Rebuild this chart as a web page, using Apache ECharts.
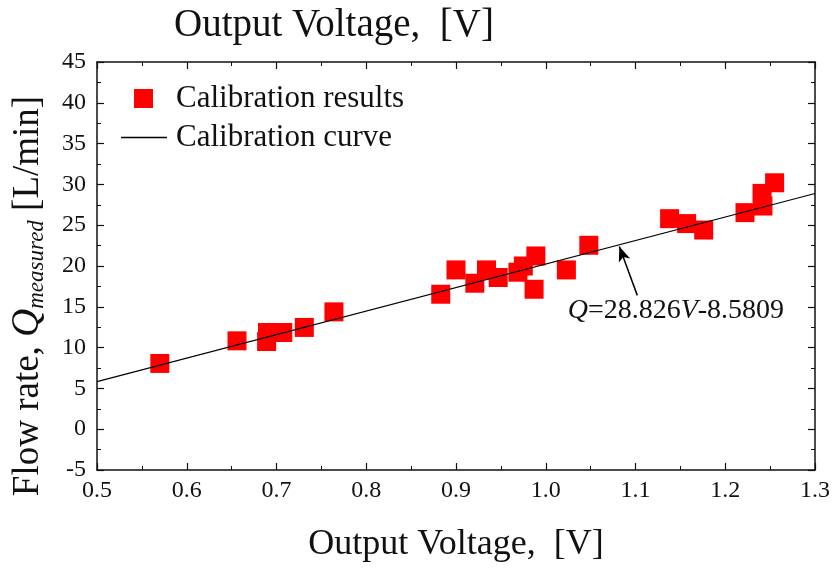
<!DOCTYPE html>
<html>
<head>
<meta charset="utf-8">
<title>Flow rate calibration</title>
<script src="https://cdn.jsdelivr.net/npm/echarts@6/dist/echarts.min.js"></script>
<style>
  html, body { margin: 0; padding: 0; background: #fff; }
  #chart { width: 835px; height: 568px; }
</style>
</head>
<body>
<div id="chart"></div>
<script>
// measured points (output voltage [V], flow rate [L/min])
const voltage = [0.570, 0.656, 0.689, 0.690, 0.707, 0.731, 0.764, 0.883, 0.900, 0.921,
  0.934, 0.947, 0.969, 0.975, 0.989, 0.987, 1.023, 1.048, 1.138, 1.157,
  1.176, 1.222, 1.242, 1.241, 1.255];
const flowRate = [8.06, 10.83, 10.75, 11.85, 11.85, 12.47, 14.38, 16.54, 19.52, 17.89,
  19.52, 18.59, 19.24, 20.0, 21.23, 17.15, 19.52, 22.54, 25.8, 25.2,
  24.41, 26.54, 27.35, 28.9, 30.2];

// fitted line end points, Q = 28.826V - 8.5809
const curveV = [0.5, 1.3];
const curveQ = [5.83, 28.89];

// arrow from the equation label to the line
const arrowFrom = [1.102, 16.4];
const arrowTo = [1.082, 22.4];
const labelAt = [1.145, 14.5];

const xTicks = { min: 0.5, max: 1.3, interval: 0.1 };
const yTicks = { min: -5, max: 45, interval: 5 };

const FONT = "'Liberation Serif', 'DejaVu Serif', serif";
const INK = "#111";

const chart = echarts.init(document.getElementById("chart"));

function frameAxis(extra) {
  return Object.assign({
    axisLine: { show: true, onZero: false, lineStyle: { color: INK, width: 1.5 } },
    axisTick: { show: true, inside: true, length: 7, lineStyle: { color: INK, width: 1.2 } },
    minorTick: { show: true, splitNumber: 2, length: 4, lineStyle: { color: INK, width: 1 } },
    splitLine: { show: false },
    axisLabel: { show: false }
  }, extra);
}

const legendText = { fontFamily: FONT, fontSize: 31, color: INK };

chart.setOption({
  backgroundColor: "#fff",
  animation: false,
  title: {
    text: "Output Voltage,  [V]",
    left: 169,
    top: 1,
    textStyle: { fontFamily: FONT, fontSize: 39, fontWeight: "normal", color: INK }
  },
  grid: { left: 97, right: 20, top: 62, bottom: 97, containLabel: false },
  legend: [
    {
      left: 134,
      top: 83,
      padding: 0,
      itemWidth: 19,
      itemHeight: 19,
      textStyle: Object.assign({ padding: [0, 0, 0, 18] }, legendText),
      data: [{ name: "Calibration results", icon: "rect" }]
    },
    {
      left: 121,
      top: 122,
      padding: 0,
      itemWidth: 46,
      itemHeight: 1.5,
      textStyle: Object.assign({ padding: [0, 0, 0, 4] }, legendText),
      data: [{ name: "Calibration curve", icon: "rect" }]
    }
  ],
  xAxis: [
    frameAxis({
      type: "value",
      position: "bottom",
      min: xTicks.min,
      max: xTicks.max,
      interval: xTicks.interval,
      axisLabel: {
        show: true,
        margin: 9,
        fontFamily: FONT,
        fontSize: 24,
        color: INK,
        formatter: (v) => v.toFixed(1)
      },
      name: "Output Voltage,  [V]",
      nameLocation: "middle",
      nameGap: 57,
      nameTextStyle: { fontFamily: FONT, fontSize: 36, color: INK }
    }),
    frameAxis({
      type: "value",
      position: "top",
      min: xTicks.min,
      max: xTicks.max,
      interval: xTicks.interval
    })
  ],
  yAxis: [
    frameAxis({
      type: "value",
      position: "left",
      min: yTicks.min,
      max: yTicks.max,
      interval: yTicks.interval,
      axisLabel: { show: true, margin: 11, fontFamily: FONT, fontSize: 24, color: INK },
      name: "{n|Flow rate, }{q|Q}{s|measured}{n| [L/min]}",
      nameLocation: "middle",
      nameRotate: 90,
      nameGap: 49,
      nameTextStyle: {
        fontFamily: FONT,
        color: INK,
        padding: [0, 60, 0, 0],
        rich: {
          n: { fontFamily: FONT, fontSize: 37, color: INK },
          q: { fontFamily: FONT, fontSize: 39, fontStyle: "italic", color: INK },
          s: { fontFamily: FONT, fontSize: 23, fontStyle: "italic", color: INK, padding: [17, 0, 0, 0] }
        }
      }
    }),
    frameAxis({
      type: "value",
      position: "right",
      min: yTicks.min,
      max: yTicks.max,
      interval: yTicks.interval
    })
  ],
  series: [
    {
      name: "Calibration results",
      type: "scatter",
      symbol: "rect",
      symbolSize: 19,
      itemStyle: { color: "#ff0000", opacity: 1 },
      data: voltage.map((v, i) => [v, flowRate[i]]),
      z: 3
    },
    {
      name: "Calibration curve",
      type: "line",
      symbol: "none",
      showSymbol: false,
      lineStyle: { color: "#000", width: 1.2 },
      itemStyle: { color: "#000" },
      data: curveV.map((v, i) => [v, curveQ[i]]),
      z: 4,
      markLine: {
        silent: true,
        symbol: ["none", "arrow"],
        symbolSize: [9, 15],
        lineStyle: { color: "#000", width: 1.5, type: "solid" },
        label: { show: false },
        data: [[{ coord: arrowFrom }, { coord: arrowTo }]]
      },
      markPoint: {
        silent: true,
        symbol: "circle",
        symbolSize: 0,
        label: {
          show: true,
          position: "inside",
          formatter: "{i|Q}{n|=28.826}{i|V}{n|-8.5809}",
          rich: {
            i: { fontFamily: FONT, fontSize: 28, fontStyle: "italic", color: INK },
            n: { fontFamily: FONT, fontSize: 28, color: INK }
          }
        },
        data: [{ coord: labelAt }]
      }
    }
  ]
});
</script>
</body>
</html>
